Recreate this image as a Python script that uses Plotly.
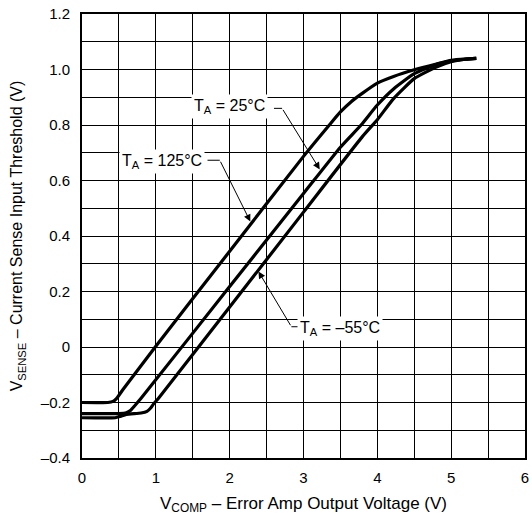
import plotly.graph_objects as go

# ---- data ----
x_125 = [0.0, 0.35, 0.42, 0.47, 0.55, 1.0, 2.0, 3.0, 3.35, 3.5, 3.65, 3.8, 4.0, 4.22, 4.5, 4.8, 5.0, 5.2, 5.34]
y_125 = [-0.200, -0.200, -0.196, -0.185, -0.155, 0.003, 0.345, 0.687, 0.800, 0.847, 0.885, 0.915, 0.951, 0.975, 0.999, 1.020, 1.033, 1.038, 1.040]

x_25 = [0.0, 0.5, 0.6, 0.66, 0.72, 0.8, 2.0, 3.0, 3.5, 3.78, 4.0, 4.22, 4.5, 4.8, 5.0, 5.2, 5.34]
y_25 = [-0.240, -0.240, -0.237, -0.228, -0.210, -0.185, 0.218, 0.553, 0.720, 0.800, 0.872, 0.930, 0.985, 1.018, 1.030, 1.037, 1.040]

x_m55 = [0.0, 0.45, 0.52, 0.6, 0.8, 0.88, 0.93, 0.97, 1.05, 2.0, 3.0, 3.8, 4.0, 4.22, 4.5, 4.8, 5.0, 5.2, 5.34]
y_m55 = [-0.255, -0.255, -0.250, -0.243, -0.238, -0.232, -0.220, -0.205, -0.180, 0.144, 0.486, 0.759, 0.819, 0.895, 0.967, 1.009, 1.028, 1.037, 1.040]

x_ticks = [0, 1, 2, 3, 4, 5, 6]
y_ticks = [-0.4, -0.2, 0, 0.2, 0.4, 0.6, 0.8, 1.0, 1.2]
y_ticktext = ["–0.4", "–0.2", "0", "0.2", "0.4", "0.6", "0.8", "1.0", "1.2"]

labels = ["T<sub>A</sub> = 25°C", "T<sub>A</sub> = 125°C", "T<sub>A</sub> = –55°C"]
label_pos = [(1.993, 0.868), (1.087, 0.668), (3.50, 0.068)]
elbow = [(2.71, 0.860), (1.866, 0.673), (2.836, 0.073)]
tip = [(3.22, 0.640), (2.28, 0.452), (2.39, 0.272)]
label_edge = [(2.60, 0.860), (1.70, 0.673), (2.93, 0.073)]

FONT = "Liberation Sans, Arial, Helvetica, sans-serif"

fig = go.Figure()
for xs, ys in [(x_125, y_125), (x_25, y_25), (x_m55, y_m55)]:
    fig.add_trace(go.Scatter(x=xs, y=ys, mode="lines",
                             line=dict(color="black", width=3.2, shape="spline", smoothing=0.5),
                             showlegend=False, hoverinfo="skip"))

for (ex, ey), (lx, ly) in zip(elbow, label_edge):
    fig.add_shape(type="line", x0=lx, y0=ly, x1=ex, y1=ey, xref="x", yref="y",
                  line=dict(color="black", width=1))

for (tx, ty), (ex, ey) in zip(tip, elbow):
    fig.add_annotation(x=tx, y=ty, ax=ex, ay=ey, xref="x", yref="y", axref="x", ayref="y",
                       text="", showarrow=True, arrowhead=2, arrowsize=1.4, arrowwidth=1,
                       arrowcolor="black", standoff=0)

for txt, (px, py) in zip(labels, label_pos):
    fig.add_annotation(x=px, y=py, xref="x", yref="y", text=txt, showarrow=False,
                       bgcolor="white", borderpad=2,
                       font=dict(family=FONT, size=16, color="black"))

fig.update_layout(
    width=532, height=522,
    margin=dict(l=82, r=3, t=14, b=64),
    plot_bgcolor="white", paper_bgcolor="white",
    font=dict(family=FONT, size=15, color="black"),
)
fig.update_xaxes(range=[0, 6], tickvals=x_ticks, ticks="", showline=True, linecolor="black",
                 linewidth=2, mirror=True, showgrid=True, gridcolor="black", gridwidth=1.4,
                 zeroline=False, ticklabelstandoff=5,
                 minor=dict(dtick=0.5, showgrid=True, gridcolor="black", gridwidth=1.4),
                 title=dict(text="V<sub>COMP</sub> – Error Amp Output Voltage (V)", standoff=12,
                            font=dict(size=17)))
fig.update_yaxes(range=[-0.4, 1.2], tickvals=y_ticks, ticktext=y_ticktext, ticks="",
                 showline=True, linecolor="black", linewidth=2, mirror=True,
                 showgrid=True, gridcolor="black", gridwidth=1.4, zeroline=False,
                 ticklabelstandoff=7,
                 minor=dict(dtick=0.1, showgrid=True, gridcolor="black", gridwidth=1.4),
                 title=dict(text="V<sub>SENSE</sub> – Current Sense Input Threshold (V)", standoff=14,
                            font=dict(size=16)))

fig.write_html("out.html", config={"displayModeBar": False},
               post_script="document.body.style.margin='0';")
